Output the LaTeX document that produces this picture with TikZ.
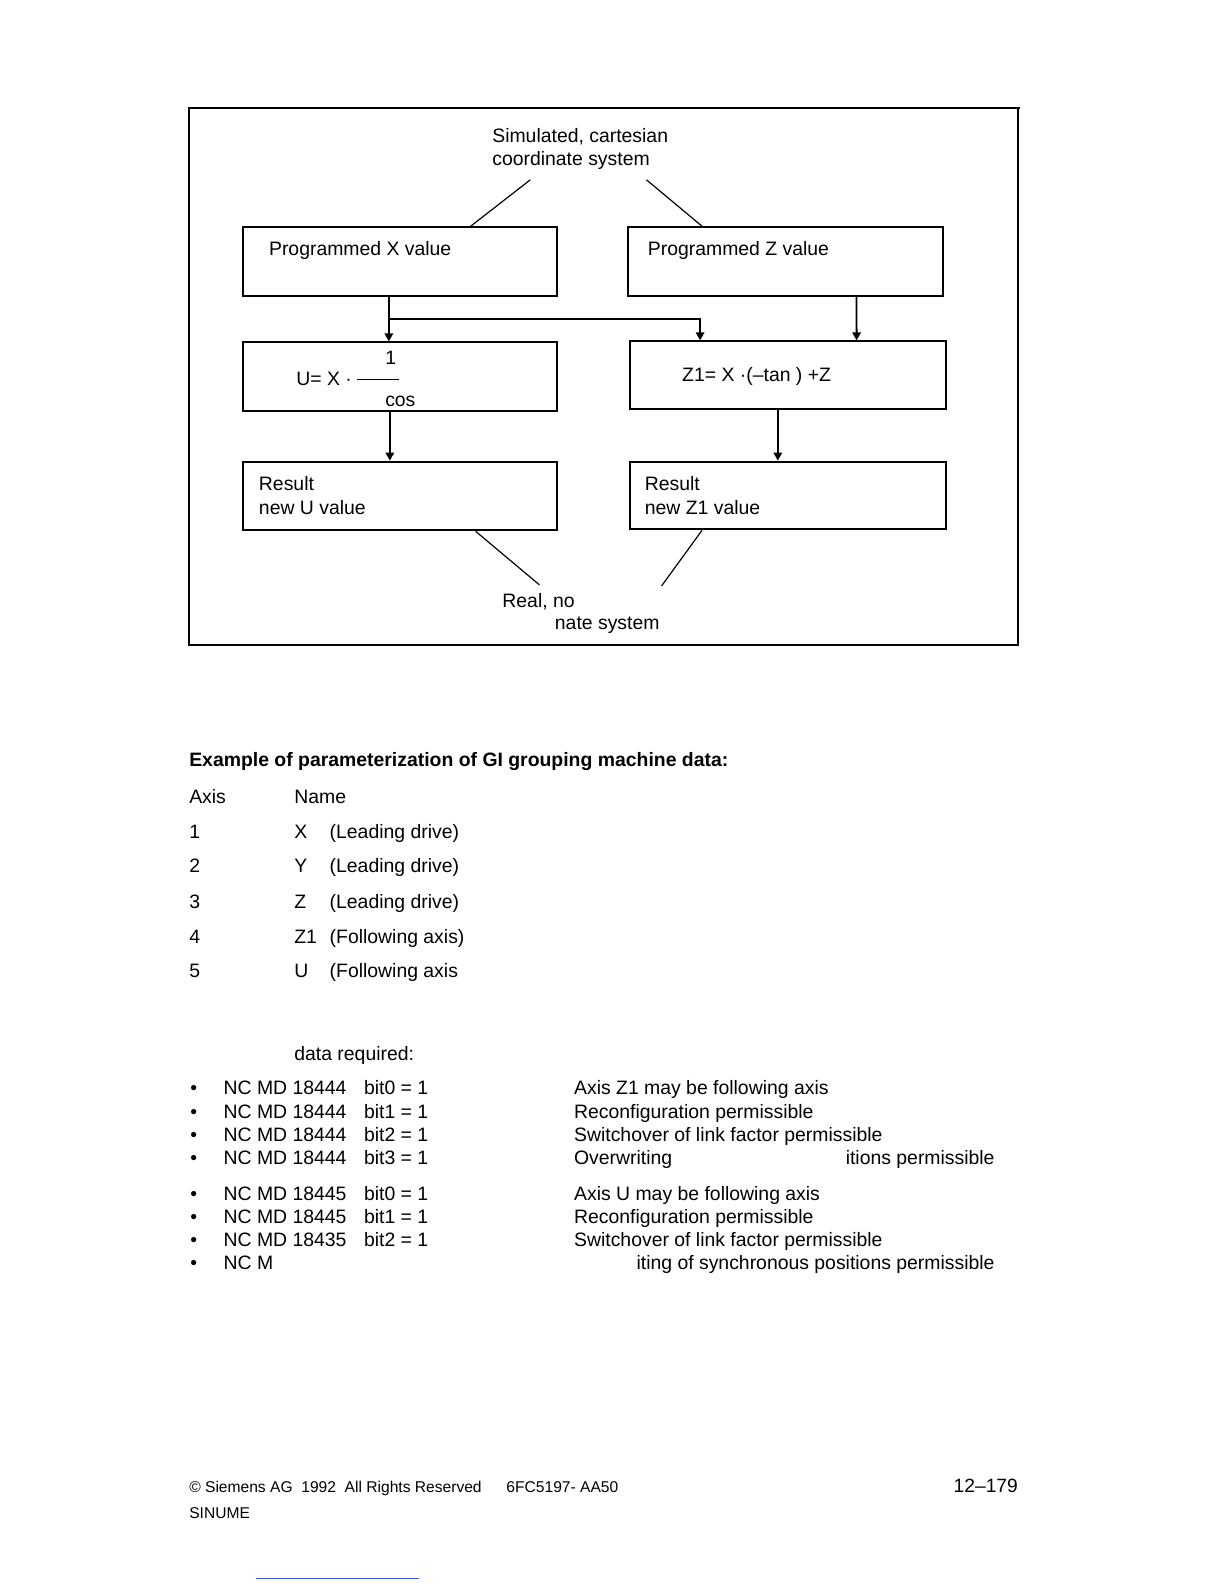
\documentclass[tikz,border=0pt]{standalone}
\usepackage{fontspec}
\setmainfont{Liberation Sans}
\usetikzlibrary{arrows.meta}
\begin{document}
\begin{tikzpicture}[x=0.50505pt,y=-0.50505pt,
  txt/.style={anchor=base west, inner sep=0, font=\fontsize{9.7}{11.6}\selectfont},
  boldtxt/.style={txt, font=\fontsize{9.7}{11.6}\selectfont\bfseries},
  foot/.style={anchor=base west, inner sep=0, font=\fontsize{7.8}{9}\selectfont},
  box/.style={draw, line width=1pt, inner sep=0, anchor=north west, minimum width=157pt, minimum height=34.35pt},
  arr/.style={line width=0.9pt, -{Triangle[length=4pt,width=4.2pt]}},
  thin/.style={line width=0.6pt}]
\useasboundingbox (0,0) rectangle (1211.76,1568.16);
% frame
\draw[line width=1pt] (187,107) rectangle (1008,639);
\draw[line width=1pt] (1008,107) -- (1010,107);
% top label
\node[txt] (sim1) at (487,141) {Simulated, cartesian};
\node[txt] (sim2) at (487,164) {coordinate system};
\coordinate (simL) at (525,178);
\coordinate (simR) at (640,178);
% boxes
\node[box] (b1) at (240,224) {};
\node[box, minimum width=157.6pt] (b2) at (621,224) {};
\node[box] (b3) at (240,338) {};
\node[box, minimum width=157.6pt, minimum height=33.8pt] (b4) at (623,337) {};
\node[box] (b5) at (240,456) {};
\node[box, minimum width=157.6pt, minimum height=33.8pt] (b6) at (623,456) {};
% box texts
\node[txt] (t1) at (266,253) {Programmed X value};
\node[txt] (t2) at (641,253) {Programmed Z value};
\node[txt] (u1) at (293,382) {U= X ·};
\node[txt] (u2) at (381,361) {1};
\node[txt] (u3) at (381,402) {cos};
\draw[thin] (353,376) -- (395,376);
\node[txt] (z1) at (675,378) {Z1= X ·(–tan ) +Z};
\node[txt] (r1) at (256,486) {Result};
\node[txt] (r2) at (256,509) {new U value};
\node[txt] (r3) at (638,486) {Result};
\node[txt] (r4) at (638,509) {new Z1 value};
% bottom label
\node[txt] (real1) at (497,601) {Real, no};
\node[txt] (real2) at (549,623) {nate system};
\coordinate (realL) at (534,579);
\coordinate (realR) at (655,580);
% diagonal lines
\draw[thin] (simL) -- ([xshift=35.1pt]b1.north);
\draw[thin] (simR) -- ([xshift=-41.9pt]b2.north);
\draw[thin] ([xshift=37.6pt]b5.south) -- (realL);
\draw[thin] ([xshift=-42.9pt]b6.south) -- (realR);
% arrows
\coordinate (j) at (384,316);
\draw[arr] ([xshift=-5.8pt]b1.south) -- ([xshift=-5.8pt]b3.north);
\draw[line width=0.9pt] (j) -- (692,316);
\draw[arr] (j) -| ([xshift=-43.9pt]b4.north);
\draw[arr] ([xshift=35.35pt]b2.south) -- ([xshift=34.35pt]b4.north);
\draw[arr] ([xshift=-5.3pt]b3.south) -- ([xshift=-5.3pt]b5.north);
\draw[arr] ([xshift=-5.05pt]b4.south) -- ([xshift=-5.05pt]b6.north);
% heading and table
\node[boldtxt] (head) at (187,759) {Example of parameterization of GI grouping machine data:};
\node[txt] (ax) at (187,795) {Axis};
\node[txt] (nm) at (291,795) {Name};
\node[txt] (n1) at (187,830) {1};
\node[txt] (a1) at (291,830) {X};
\node[txt] (d1) at (326,830) {(Leading drive)};
\node[txt] (n2) at (187,864) {2};
\node[txt] (a2) at (291,864) {Y};
\node[txt] (d2) at (326,864) {(Leading drive)};
\node[txt] (n3) at (187,899) {3};
\node[txt] (a3) at (291,899) {Z};
\node[txt] (d3) at (326,899) {(Leading drive)};
\node[txt] (n4) at (187,934) {4};
\node[txt] (a4) at (291,934) {Z1};
\node[txt] (d4) at (326,934) {(Following axis)};
\node[txt] (n5) at (187,968) {5};
\node[txt] (a5) at (291,968) {U};
\node[txt] (d5) at (326,968) {(Following axis};
% data required
\node[txt] (req) at (291,1050) {data required:};
\foreach \y/\md/\bit/\desc [count=\i] in {
  1084/18444/bit0 = 1/Axis Z1 may be following axis,
  1107/18444/bit1 = 1/Reconfiguration permissible,
  1130/18444/bit2 = 1/Switchover of link factor permissible,
  1153/18444/bit3 = 1/Overwriting,
  1188/18445/bit0 = 1/Axis U may be following axis,
  1211/18445/bit1 = 1/Reconfiguration permissible,
  1234/18435/bit2 = 1/Switchover of link factor permissible}{
  \node[txt] (bul\i) at (188,\y) {•};
  \node[txt] (md\i) at (221,\y) {NC MD \md};
  \node[txt] (bit\i) at (360,\y) {\bit};
  \node[txt] (desc\i) at (568,\y) {\desc};
}
\node[txt, anchor=base east] (desc4b) at (985,1153) {itions permissible};
\node[txt] (bul8) at (188,1257) {•};
\node[txt] (md8) at (221,1257) {NC M};
\node[txt, anchor=base east] (desc8) at (985,1257) {iting of synchronous positions permissible};
% footer
\node[foot] (f1) at (187,1478) {© Siemens AG\ \ 1992\ \ All Rights Reserved};
\node[foot] (f2) at (501,1478) {6FC5197- AA50};
\node[anchor=base east, inner sep=0, font=\fontsize{9.6}{11}\selectfont] (pg) at (1008,1478) {12–179};
\node[foot] (f3) at (187,1503) {SINUME};
\draw[line width=0.6pt, color={rgb,255:red,60;green,90;blue,210}] (253,1563) -- (415,1563);
\end{tikzpicture}
\end{document}
